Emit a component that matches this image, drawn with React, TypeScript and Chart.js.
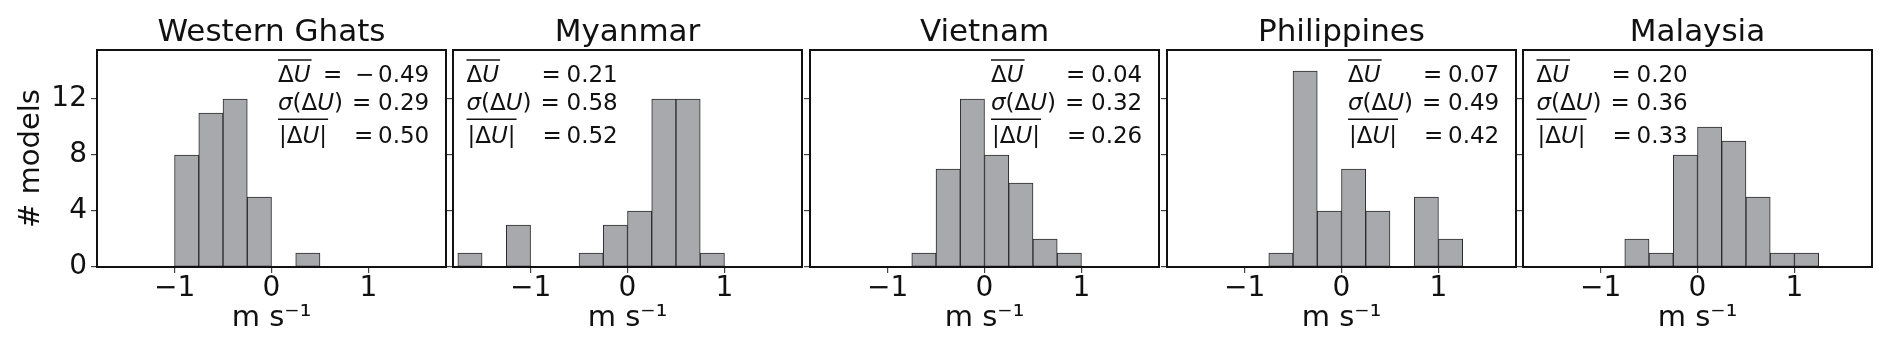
import React, { useEffect, useRef } from 'react';
import { Chart, registerables } from 'chart.js';

Chart.register(...registerables);
Chart.defaults.font.family = "'DejaVu Sans', sans-serif";

// ---------------- data ----------------
const regions = ['Western Ghats', 'Myanmar', 'Vietnam', 'Philippines', 'Malaysia'];
const binLeftEdges = [-1.75, -1.5, -1.25, -1.0, -0.75, -0.5, -0.25, 0, 0.25, 0.5, 0.75, 1.0];
const binWidth = 0.25;

const countsWesternGhats = [0, 0, 0, 8, 11, 12, 5, 0, 1, 0, 0, 0];
const countsMyanmar = [1, 0, 3, 0, 0, 1, 3, 4, 12, 12, 1, 0];
const countsVietnam = [0, 0, 0, 0, 1, 7, 12, 8, 6, 2, 1, 0];
const countsPhilippines = [0, 0, 0, 0, 1, 14, 4, 7, 4, 0, 5, 2];
const countsMalaysia = [0, 0, 0, 0, 2, 1, 8, 10, 9, 5, 1, 1];
const allCounts = [countsWesternGhats, countsMyanmar, countsVietnam, countsPhilippines, countsMalaysia];

const meanDU = [-0.49, 0.21, 0.04, 0.07, 0.2];
const sigmaDU = [0.29, 0.58, 0.32, 0.49, 0.36];
const meanAbsDU = [0.5, 0.52, 0.26, 0.42, 0.33];
const statsSide = ['right', 'left', 'right', 'right', 'left'];

const xTickValues = [-1, 0, 1];
const xTickLabels = ['\u22121', '0', '1'];
const yTickValues = [0, 4, 8, 12];
const yTickLabels = ['0', '4', '8', '12'];
const xAxisTitle = 'm s\u207B\u00B9';
const yAxisTitle = '# models';
const xMin = -1.8;
const xMax = 1.8;
const yMin = 0;
const yMax = 15.5;

// ---------------- layout ----------------
const PAGE_W = 1892;
const PAGE_H = 349;
const panelLefts = [97, 453, 810, 1167, 1523];
const PANEL_W = 349;
const PLOT_BOTTOM = 267;
const RIGHT_PAD = 6;
const INK = '#111111';

function drawPieces(ctx: CanvasRenderingContext2D, pieces: [string, boolean][], x: number, y: number, size: number) {
  let cx = x;
  for (const [t, italic] of pieces) {
    ctx.font = `${italic ? 'italic ' : ''}${size}px 'DejaVu Sans'`;
    ctx.fillText(t, cx, y);
    cx += ctx.measureText(t).width;
  }
  return cx;
}

function overline(ctx: CanvasRenderingContext2D, x1: number, x2: number, y: number) {
  ctx.beginPath();
  ctx.moveTo(x1, y);
  ctx.lineTo(x2, y);
  ctx.lineWidth = 1.5;
  ctx.strokeStyle = INK;
  ctx.stroke();
}

function makePlugin(idx: number) {
  return {
    id: 'frameStats' + idx,
    afterDraw(chart: any) {
      const { ctx, chartArea } = chart;
      const { left, top, right, bottom } = chartArea;
      ctx.save();
      // frame
      ctx.lineWidth = 2;
      ctx.strokeStyle = INK;
      ctx.strokeRect(left, top, right - left, bottom - top);
      // stats text
      const size = 23;
      ctx.fillStyle = INK;
      ctx.textAlign = 'left';
      ctx.textBaseline = 'alphabetic';
      const x0 = left + (statsSide[idx] === 'right' ? 181 : 13.5);
      const y1 = top + 31.5;
      const y2 = top + 60;
      const y3 = top + 92.5;
      const font = `${size}px 'DejaVu Sans'`;

      const e1 = drawPieces(ctx, [['\u0394', false], ['U', true]], x0, y1, size);
      overline(ctx, x0, e1 + 1, top + 10);
      ctx.font = font;
      const m = meanDU[idx];
      if (m < 0) {
        ctx.fillText('=', x0 + 45, y1);
        ctx.fillText('\u2212', x0 + 77, y1);
        ctx.fillText(Math.abs(m).toFixed(2), x0 + 100, y1);
      } else {
        ctx.fillText('=', x0 + 75, y1);
        ctx.fillText(m.toFixed(2), x0 + 100, y1);
      }

      drawPieces(ctx, [['\u03C3', true], ['(', false], ['\u0394', false], ['U', true], [')', false]], x0, y2, size);
      ctx.font = font;
      ctx.fillText('=', x0 + 74, y2);
      ctx.fillText(sigmaDU[idx].toFixed(2), x0 + 100, y2);

      const e3 = drawPieces(ctx, [['|', false], ['\u0394', false], ['U', true], ['|', false]], x0 + 1, y3, size);
      overline(ctx, x0, e3 + 1, top + 69.3);
      ctx.font = font;
      ctx.fillText('=', x0 + 76, y3);
      ctx.fillText(meanAbsDU[idx].toFixed(2), x0 + 100, y3);
      ctx.restore();
    },
  };
}

function Panel({ idx }: { idx: number }) {
  const ref = useRef<HTMLCanvasElement>(null);
  const isFirst = idx === 0;
  const L = isFirst ? 97 : 10;
  const canvasLeft = panelLefts[idx] - L;
  const canvasWidth = L + PANEL_W + RIGHT_PAD;

  useEffect(() => {
    const counts = allCounts[idx];
    const data = binLeftEdges
      .map((e, i) => ({ x: e + binWidth / 2, y: counts[i] }))
      .filter((d) => d.y > 0);
    const gridOpts = {
      display: true,
      drawOnChartArea: false,
      drawTicks: true,
      tickLength: 6,
      color: '#444444',
      lineWidth: 1.2,
      offset: false,
    };
    const chart = new Chart(ref.current as HTMLCanvasElement, {
      type: 'bar',
      data: {
        datasets: [
          {
            data,
            backgroundColor: '#a8a9ad',
            borderColor: '#2b2b2b',
            borderWidth: 1,
            borderSkipped: false,
            barPercentage: 1,
            categoryPercentage: 1,
            grouped: false,
          } as any,
        ],
      },
      options: {
        responsive: false,
        animation: false,
        devicePixelRatio: 1,
        layout: { padding: { left: 0, right: RIGHT_PAD, top: 0, bottom: 0 } },
        plugins: {
          legend: { display: false },
          tooltip: { enabled: false },
          title: {
            display: true,
            text: regions[idx],
            color: INK,
            fullSize: false,
            font: { size: 31, weight: 'normal', lineHeight: 1.0 },
            padding: { top: 17.8, bottom: 1.2 },
          },
        },
        scales: {
          x: {
            type: 'linear',
            min: xMin,
            max: xMax,
            offset: false,
            afterBuildTicks: (s: any) => {
              s.ticks = xTickValues.map((v) => ({ value: v }));
            },
            afterFit: (s: any) => {
              s.height = PAGE_H - PLOT_BOTTOM;
            },
            grid: gridOpts,
            border: { display: false },
            ticks: {
              color: INK,
              font: { size: 28, lineHeight: 1.0 },
              padding: 2,
              maxRotation: 0,
              autoSkip: false,
              callback: (_v: any, i: number) => xTickLabels[i],
            },
            title: {
              display: true,
              text: xAxisTitle,
              color: INK,
              font: { size: 29, lineHeight: 1.2 },
              padding: { top: 0, bottom: 13.6 },
            },
          },
          y: {
            type: 'linear',
            min: yMin,
            max: yMax,
            afterBuildTicks: (s: any) => {
              s.ticks = yTickValues.map((v) => ({ value: v }));
            },
            afterFit: (s: any) => {
              s.width = L;
            },
            grid: gridOpts,
            border: { display: false },
            ticks: {
              display: isFirst,
              color: INK,
              font: { size: 28, lineHeight: 1.0 },
              padding: 4,
              callback: (_v: any, i: number) => yTickLabels[i],
            },
            title: {
              display: isFirst,
              text: yAxisTitle,
              color: INK,
              font: { size: 29, lineHeight: 1.2 },
              padding: { top: 13.6, bottom: 0 },
            },
          },
        },
      } as any,
      plugins: [makePlugin(idx)],
    });
    return () => chart.destroy();
  }, [idx]);

  return (
    <canvas
      ref={ref}
      width={canvasWidth}
      height={PAGE_H}
      style={{ position: 'absolute', left: canvasLeft, top: 0, width: canvasWidth, height: PAGE_H }}
    />
  );
}

export default function App() {
  return (
    <div style={{ position: 'fixed', left: 0, top: 0, width: PAGE_W, height: PAGE_H, background: '#ffffff' }}>
      {regions.map((_, i) => (
        <Panel key={i} idx={i} />
      ))}
    </div>
  );
}
